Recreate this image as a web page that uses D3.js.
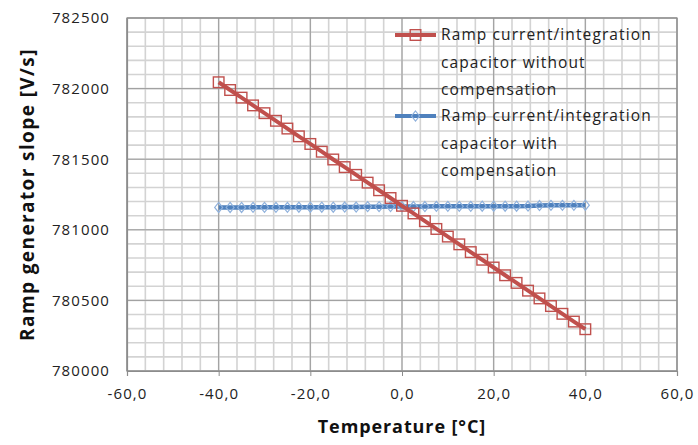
<!DOCTYPE html>
<html>
<head>
<meta charset="utf-8">
<script src="https://cdn.jsdelivr.net/npm/d3@7"></script>
<style>
  body { margin: 0; background: #fff; }
  text { font-family: "Open Sans", sans-serif; }
</style>
</head>
<body>
<div id="chart"></div>
<script>
// temperature in degC
var temps = [-40, -37.5, -35, -32.5, -30, -27.5, -25, -22.5, -20, -17.5, -15, -12.5, -10, -7.5, -5, -2.5,
             0, 2.5, 5, 7.5, 10, 12.5, 15, 17.5, 20, 22.5, 25, 27.5, 30, 32.5, 35, 37.5, 40];
// slope without compensation [V/s]
var slopeNoComp = [782045, 781990, 781936, 781881, 781826, 781772, 781717, 781662, 781608, 781553,
                   781498, 781444, 781389, 781334, 781280, 781225, 781170, 781116, 781061, 781006,
                   780952, 780897, 780842, 780788, 780733, 780678, 780624, 780569, 780514, 780460,
                   780405, 780350, 780296];
// slope with compensation [V/s]
var slopeComp = [781158, 781158, 781158, 781159, 781159, 781159, 781159, 781160, 781160, 781160,
                 781160, 781161, 781161, 781164, 781164, 781165, 781165, 781165, 781165, 781166,
                 781166, 781166, 781166, 781167, 781167, 781167, 781167, 781168, 781172, 781173,
                 781173, 781173, 781174];
var xTicks = [-60, -40, -20, 0, 20, 40, 60];
var yTicks = [780000, 780500, 781000, 781500, 782000, 782500];
var legendLabels = [
    ["Ramp current/integration", "capacitor without", "compensation"],
    ["Ramp current/integration", "capacitor with", "compensation"]
];

var width = 698, height = 445;
var margin = {top: 18, right: 21, bottom: 74, left: 127};
var red = "#C0504D", blue = "#4F81BD", blueMarker = "#8fb1dc";
var diamond = "M0,-5L4,0L0,5L-4,0Z";

var svg = d3.select("#chart").append("svg")
    .attr("width", width)
    .attr("height", height);

var x = d3.scaleLinear().domain([-60, 60]).range([margin.left, width - margin.right]);
var y = d3.scaleLinear().domain([780000, 782500]).range([height - margin.bottom, margin.top]);

var grid = svg.append("g").attr("class", "grid");
// minor grid
grid.selectAll(".vminor")
    .data(d3.range(-60, 61, 4))
    .enter().append("line")
    .attr("x1", function (d) { return x(d); })
    .attr("x2", function (d) { return x(d); })
    .attr("y1", y(780000)).attr("y2", y(782500))
    .style("stroke", "#d3d3d3").style("stroke-width", 1.6);
grid.selectAll(".hminor")
    .data(d3.range(780000, 782501, 100))
    .enter().append("line")
    .attr("y1", function (d) { return y(d); })
    .attr("y2", function (d) { return y(d); })
    .attr("x1", x(-60)).attr("x2", x(60))
    .style("stroke", "#d3d3d3").style("stroke-width", 1.6);
// major grid
grid.selectAll(".vmajor")
    .data(xTicks)
    .enter().append("line")
    .attr("x1", function (d) { return x(d); })
    .attr("x2", function (d) { return x(d); })
    .attr("y1", y(780000)).attr("y2", y(782500))
    .style("stroke", "#9c9c9c").style("stroke-width", 1);
grid.selectAll(".hmajor")
    .data(yTicks)
    .enter().append("line")
    .attr("y1", function (d) { return y(d); })
    .attr("y2", function (d) { return y(d); })
    .attr("x1", x(-60)).attr("x2", x(60))
    .style("stroke", "#9c9c9c").style("stroke-width", 1);

// axes
var fmtX = function (d) { return d3.format(".1f")(d).replace(".", ",").replace("−", "-"); };
var xAxis = svg.append("g")
    .attr("transform", "translate(0," + y(780000) + ")")
    .call(d3.axisBottom(x).tickValues(xTicks).tickSize(5).tickPadding(12).tickFormat(fmtX));
var yAxis = svg.append("g")
    .attr("transform", "translate(" + x(-60) + ",0)")
    .call(d3.axisLeft(y).tickValues(yTicks).tickSize(0).tickPadding(17).tickFormat(d3.format("d")));
[xAxis, yAxis].forEach(function (a) {
    a.select(".domain").style("stroke", "#8c8c8c").style("stroke-width", 1.2);
    a.selectAll(".tick line").style("stroke", "#8c8c8c");
    a.selectAll("text").style("font-family", "'Open Sans', sans-serif")
        .style("font-size", "15px").style("letter-spacing", "1.1px").style("fill", "#222");
});
// plot border right/top
svg.append("rect")
    .attr("x", x(-60)).attr("y", y(782500))
    .attr("width", x(60) - x(-60)).attr("height", y(780000) - y(782500))
    .style("fill", "none").style("stroke", "#8c8c8c").style("stroke-width", 1.2);

// series
var line = d3.line()
    .x(function (d) { return x(d[0]); })
    .y(function (d) { return y(d[1]); });
var redData = d3.zip(temps, slopeNoComp);
var blueData = d3.zip(temps, slopeComp);

svg.append("path").datum(blueData)
    .attr("d", line)
    .style("fill", "none").style("stroke", blue).style("stroke-width", 4.5);
svg.append("g").selectAll("path")
    .data(blueData)
    .enter().append("path")
    .attr("d", diamond)
    .attr("transform", function (d) { return "translate(" + x(d[0]) + "," + y(d[1]) + ")"; })
    .style("fill", "none").style("stroke", blueMarker).style("stroke-width", 1.2);

svg.append("path").datum(redData)
    .attr("d", line)
    .style("fill", "none").style("stroke", red).style("stroke-width", 4);
svg.append("g").selectAll("rect")
    .data(redData)
    .enter().append("rect")
    .attr("x", function (d) { return x(d[0]) - 5.3; })
    .attr("y", function (d) { return y(d[1]) - 5.3; })
    .attr("width", 10.6).attr("height", 10.6)
    .style("fill", "none").style("stroke", red).style("stroke-width", 1.4);

// legend
var legend = svg.append("g").attr("transform", "translate(395,35)");
var colors = [red, blue];
legendLabels.forEach(function (lines, i) {
    var g = legend.append("g").attr("transform", "translate(0," + (i * 81) + ")");
    g.append("line").attr("x1", 0).attr("x2", 41).attr("y1", 0).attr("y2", 0)
        .style("stroke", colors[i]).style("stroke-width", 4);
    if (i === 0) {
        g.append("rect").attr("x", 15.2).attr("y", -5.3).attr("width", 10.6).attr("height", 10.6)
            .style("fill", "none").style("stroke", red).style("stroke-width", 1.4);
    } else {
        g.append("path").attr("d", diamond)
            .attr("transform", "translate(20.5,0)")
            .style("fill", "none").style("stroke", blueMarker).style("stroke-width", 1.2);
    }
    g.selectAll("text")
        .data(lines)
        .enter().append("text")
        .attr("x", 46)
        .attr("y", function (d, j) { return j * 27.5; })
        .attr("dy", "0.35em")
        .style("font-size", "15.5px")
        .style("letter-spacing", "1.1px")
        .style("fill", "#222")
        .text(function (d) { return d; });
});

// axis titles
svg.append("text")
    .attr("x", (x(-60) + x(60)) / 2)
    .attr("y", 433)
    .attr("text-anchor", "middle")
    .style("font-size", "18px").style("letter-spacing", "0.9px")
    .style("font-weight", "bold").style("fill", "#111")
    .text("Temperature [°C]");
svg.append("text")
    .attr("transform", "translate(27," + ((y(780000) + y(782500)) / 2) + ") rotate(-90)")
    .attr("text-anchor", "middle")
    .attr("dy", "0.35em")
    .style("font-size", "19px").style("letter-spacing", "1.4px")
    .style("font-weight", "bold").style("fill", "#111")
    .text("Ramp generator slope [V/s]");
</script>
</body>
</html>
